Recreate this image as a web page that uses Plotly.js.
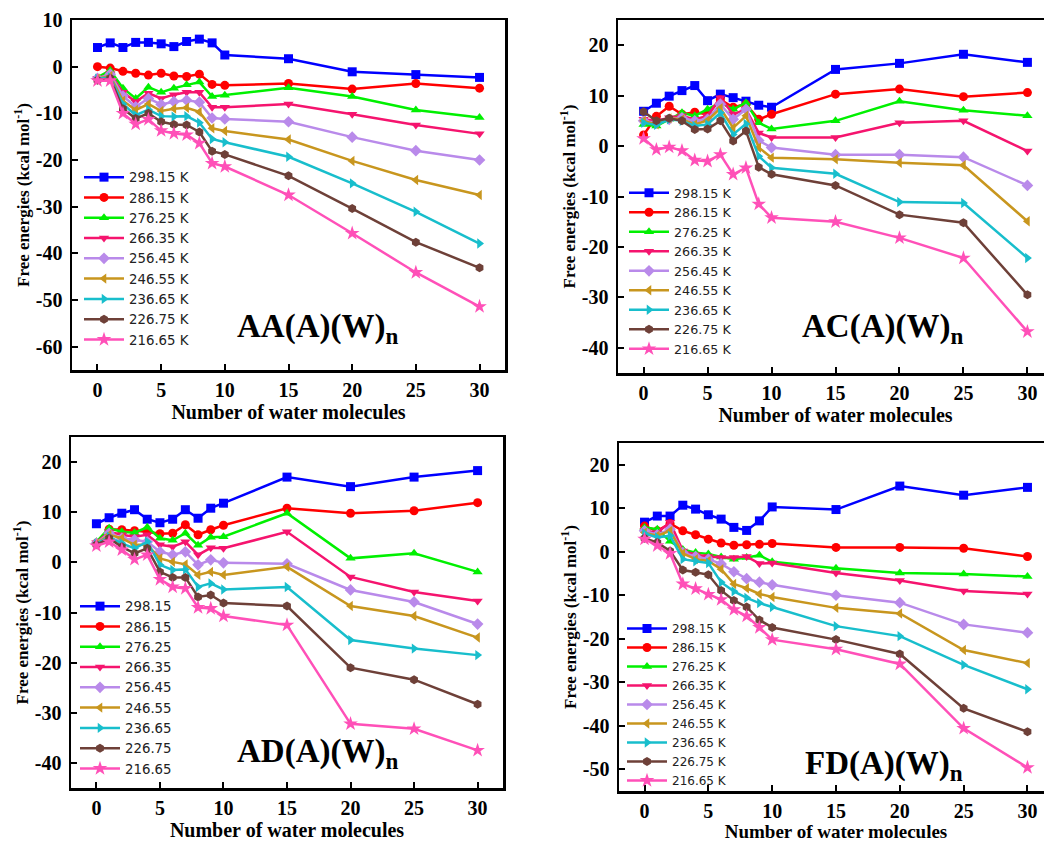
<!DOCTYPE html>
<html><head><meta charset="utf-8">
<script src="https://cdn.plot.ly/plotly-3.0.1.min.js"></script>
<style>html,body{margin:0;padding:0;overflow:hidden;background:#fff}#chart{width:1060px;height:843px}</style>
</head><body><div id="chart"></div>
<script>
// ---- data ----
const waterMolecules = [0,1,2,3,4,5,6,7,8,9,10,15,20,25,30];
const temperatures = ['298.15','286.15','276.25','266.35','256.45','246.55','236.65','226.75','216.65'];
const xTicks = [0,5,10,15,20,25,30];

// AA(A)(W)n
const AA_298 = [4.1,5.1,4.1,5.2,5.2,4.9,4.3,5.4,5.9,5.1,2.5,1.7,-1.1,-1.7,-2.3];
const AA_286 = [0,-0.3,-1.0,-1.4,-1.8,-1.4,-2.0,-2.1,-1.6,-3.8,-4.0,-3.6,-4.8,-3.6,-4.6];
const AA_276 = [-2.3,-0.8,-4.6,-6.8,-4.4,-5.5,-4.6,-3.9,-3.3,-6.4,-6.1,-4.5,-6.4,-9.3,-10.9];
const AA_266 = [-2.5,-1.5,-5.5,-7.5,-5.7,-6.8,-6.0,-5.5,-5.5,-8.7,-8.7,-8.0,-10.2,-12.5,-14.4];
const AA_256 = [-2.5,-1.6,-6.3,-8.6,-6.8,-8.1,-7.5,-7.2,-7.6,-11.0,-11.2,-11.8,-15.1,-18.0,-20.0];
const AA_246 = [-2.6,-2.0,-7.3,-9.3,-8.0,-9.5,-9.0,-8.8,-9.7,-13.2,-13.8,-15.6,-20.2,-24.3,-27.5];
const AA_236 = [-2.6,-2.3,-8.0,-10.4,-9.2,-10.6,-10.7,-10.6,-12.0,-15.5,-16.2,-19.3,-25.0,-31.1,-37.9];
const AA_226 = [-2.9,-2.5,-9.0,-11.1,-10.0,-11.8,-12.4,-12.5,-14.0,-18.1,-18.8,-23.4,-30.4,-37.6,-43.1];
const AA_216 = [-3.0,-3.0,-10.0,-12.3,-11.3,-13.7,-14.3,-14.6,-16.4,-20.7,-21.4,-27.5,-35.7,-44.1,-51.4];

// AC(A)(W)n
const AC_298 = [6.9,8.5,9.9,11.0,12.0,9.0,10.3,9.6,8.9,8.1,7.7,15.2,16.4,18.2,16.6];
const AC_286 = [2.2,5.9,7.9,6.3,6.7,6.3,9.2,7.7,8.3,5.3,6.3,10.3,11.3,9.8,10.6];
const AC_276 = [4.3,4.0,5.3,6.6,6.0,7.3,8.6,7.3,8.6,4.6,3.4,5.0,8.9,7.1,6.0];
const AC_266 = [5.3,5.0,5.6,6.0,5.3,6.0,9.6,6.3,7.3,2.6,1.7,1.7,4.6,5.0,-1.0];
const AC_256 = [5.0,4.6,5.3,5.6,5.0,5.3,8.3,5.3,7.3,1.1,-0.3,-1.7,-1.7,-2.2,-7.8];
const AC_246 = [5.0,4.3,5.5,5.3,4.3,5.1,7.5,3.6,6.0,-0.3,-2.3,-2.6,-3.3,-3.8,-14.9];
const AC_236 = [4.6,4.2,5.3,5.0,4.0,4.3,6.6,2.3,4.4,-2.0,-4.3,-5.5,-11.1,-11.3,-22.2];
const AC_226 = [6.8,5.0,5.5,5.0,3.3,3.4,5.0,1.0,3.0,-4.2,-5.6,-7.8,-13.6,-15.2,-29.5];
const AC_216 = [1.5,-0.7,-0.2,-0.9,-2.8,-3.0,-1.7,-5.6,-4.3,-11.5,-14.2,-15.0,-18.2,-22.2,-36.8];

// AD(A)(W)n
const AD_298 = [7.7,8.9,9.8,10.5,8.6,7.9,8.6,10.5,8.8,10.8,11.8,17.0,15.1,17.0,18.3];
const AD_286 = [3.8,6.6,6.5,6.3,6.1,5.7,5.8,7.5,5.5,6.5,7.4,10.8,9.8,10.3,11.9];
const AD_276 = [4.1,6.8,6.1,5.9,7.0,4.8,4.4,5.8,3.4,5.0,5.1,9.8,0.8,1.8,-1.9];
const AD_266 = [3.9,6.1,5.5,5.1,5.5,3.5,3.1,4.1,1.5,2.9,2.8,6.1,-2.9,-5.9,-7.7];
const AD_256 = [3.8,5.8,4.8,4.5,4.1,2.1,1.5,2.1,-0.5,0.5,-0.1,-0.3,-5.5,-7.9,-12.3];
const AD_246 = [3.7,5.5,4.8,3.5,3.5,0.8,0.1,-0.4,-2.5,-1.9,-2.5,-0.9,-8.7,-10.7,-15.0];
const AD_236 = [3.7,5.1,3.8,2.8,4.1,-0.5,-1.5,-1.4,-4.9,-4.2,-5.4,-4.9,-15.5,-17.2,-18.5];
const AD_226 = [3.5,4.8,3.1,1.8,2.8,-1.9,-3.0,-3.0,-6.9,-6.5,-8.1,-8.7,-21.0,-23.4,-28.3];
const AD_216 = [3.3,4.1,2.5,0.6,1.5,-3.4,-4.9,-5.2,-9.0,-9.2,-10.7,-12.5,-32.2,-33.2,-37.5];

// FD(A)(W)n
const FD_298 = [6.8,8.2,8.2,10.7,9.8,8.5,7.5,5.6,4.9,7.1,10.3,9.7,15.1,13.0,14.8];
const FD_286 = [5.9,4.8,6.5,4.8,3.9,2.9,2.0,1.5,1.6,1.7,1.9,1.0,1.0,0.8,-1.1];
const FD_276 = [5.6,5.2,2.4,0.5,-0.2,-0.5,-1.2,-1.7,-1.3,-0.8,-2.3,-3.8,-4.9,-5.1,-5.7];
const FD_266 = [4.9,4.4,6.8,0.2,-0.7,-1.1,-1.3,-1.3,-1.1,-2.7,-2.6,-4.9,-6.6,-9.0,-9.7];
const FD_256 = [4.8,3.9,5.2,-0.2,-1.1,-1.7,-2.8,-4.6,-6.2,-7.0,-7.6,-10.0,-11.7,-16.7,-18.6];
const FD_246 = [4.4,3.7,4.8,-0.4,-1.7,-2.1,-4.0,-7.4,-8.4,-9.7,-10.4,-12.9,-14.2,-22.6,-25.6];
const FD_236 = [4.2,3.3,3.7,-1.7,-2.2,-2.6,-7.0,-9.1,-10.6,-11.8,-12.7,-17.1,-19.4,-26.0,-31.6];
const FD_226 = [3.1,2.1,0.2,-4.2,-4.7,-5.3,-8.9,-11.2,-12.7,-15.7,-17.4,-20.2,-23.5,-36.0,-41.4];
const FD_216 = [2.9,1.4,-0.4,-7.4,-8.5,-9.8,-11.0,-13.3,-14.8,-17.4,-20.2,-22.4,-25.8,-40.6,-49.6];

const AA_yTicks = [10,0,-10,-20,-30,-40,-50,-60];
const AC_yTicks = [20,10,0,-10,-20,-30,-40];
const AD_yTicks = [20,10,0,-10,-20,-30,-40];
const FD_yTicks = [20,10,0,-10,-20,-30,-40,-50];

// ---- styling ----
const colors = ['#0000FF','#FF0000','#00F000','#F5146E','#B98AEA','#C8961E','#18BECC','#6E4038','#FF50B8'];
const symbols = ['square','circle','triangle-up','triangle-down','diamond','triangle-left','triangle-right','hexagon','star'];

const W = 1060, H = 843;
const px = v => v / W;
const py = v => 1 - v / H;

const panels = [
  {series:[AA_298,AA_286,AA_276,AA_266,AA_256,AA_246,AA_236,AA_226,AA_216], unit:' K', ax:'', leg:'legend',
   dom:[72,505,20,370], yr:[-65,10], yt:AA_yTicks, label:'AA(A)(W)<sub>n</sub>', lab:[317,328],
   legPos:[79,162], legFont:13.3, xTitleSize:20},
  {series:[AC_298,AC_286,AC_276,AC_266,AC_256,AC_246,AC_236,AC_226,AC_216], unit:' K', ax:'2', leg:'legend2',
   dom:[618,1053,20,373], yr:[-45,25], yt:AC_yTicks, label:'AC(A)(W)<sub>n</sub>', lab:[882,328],
   legPos:[624,178], legFont:12.7, xTitleSize:20},
  {series:[AD_298,AD_286,AD_276,AD_266,AD_256,AD_246,AD_236,AD_226,AD_216], unit:'', ax:'3', leg:'legend3',
   dom:[71,503,437,788], yr:[-45,25], yt:AD_yTicks, label:'AD(A)(W)<sub>n</sub>', lab:[317,753],
   legPos:[75,591], legFont:13.3, xTitleSize:20},
  {series:[FD_298,FD_286,FD_276,FD_266,FD_256,FD_246,FD_236,FD_226,FD_216], unit:' K', ax:'4', leg:'legend4',
   dom:[619,1053,443,791], yr:[-55,25], yt:FD_yTicks, label:'FD(A)(W)<sub>n</sub>', lab:[884,765],
   legPos:[622,614], legFont:12, xTitleSize:19}
];

const serif = 'Liberation Serif, Times New Roman, serif';
const traces = [];
const layout = {
  width: W, height: H, margin:{l:0,r:0,t:0,b:0},
  paper_bgcolor:'#fff', plot_bgcolor:'#fff', showlegend:true,
  annotations: [], font:{family:serif, color:'#000'}
};

panels.forEach(p => {
  p.series.forEach((ys, i) => {
    traces.push({
      x: waterMolecules, y: ys, type:'scatter', mode:'lines+markers',
      name: temperatures[i] + p.unit,
      xaxis:'x'+p.ax, yaxis:'y'+p.ax, legend:p.leg,
      line:{color:colors[i], width:2.5},
      marker:{symbol:symbols[i], color:colors[i], size: symbols[i]==='star'?11:9}
    });
  });
  const common = {
    showline:true, linewidth:2.5, linecolor:'#000', mirror:true,
    ticks:'inside', ticklen:6, tickwidth:2, tickcolor:'#000',
    showgrid:false, zeroline:false,
    tickfont:{family:serif, size:20, weight:'bold', color:'#000'}
  };
  layout['xaxis'+p.ax] = Object.assign({}, common, {
    domain:[px(p.dom[0]), px(p.dom[1])], range:[-2,32],
    tickmode:'array', tickvals:xTicks, ticktext:xTicks.map(String),
    anchor:'y'+p.ax, ticklabelstandoff:0,
    title:{text:'Number of water molecules', font:{family:serif, size:p.xTitleSize, weight:'bold', color:'#000'}, standoff:0}
  });
  layout['yaxis'+p.ax] = Object.assign({}, common, {
    domain:[py(p.dom[3]), py(p.dom[2])], range:p.yr,
    tickmode:'array', tickvals:p.yt, ticktext:p.yt.map(String),
    anchor:'x'+p.ax, ticklabelstandoff:3,
    title:{text:'Free energies (kcal mol<sup>-1</sup>)', font:{family:serif, size:17, weight:'bold', color:'#000'}, standoff:2}
  });
  layout[p.leg] = {
    x:px(p.legPos[0]), y:py(p.legPos[1]), xanchor:'left', yanchor:'top',
    xref:'paper', yref:'paper', bgcolor:'rgba(0,0,0,0)', borderwidth:0,
    font:{family:'DejaVu Sans, Arial, sans-serif', size:p.legFont, color:'#222'},
    itemwidth:40, tracegroupgap:0
  };
  layout.annotations.push({
    xref:'paper', yref:'paper', x:px(p.lab[0]), y:py(p.lab[1]), xanchor:'center', yanchor:'middle',
    showarrow:false, text:p.label, font:{family:serif, size:33, weight:'bold', color:'#000'}
  });
});

Plotly.newPlot('chart', traces, layout, {staticPlot:true, displayModeBar:false});
</script></body></html>
